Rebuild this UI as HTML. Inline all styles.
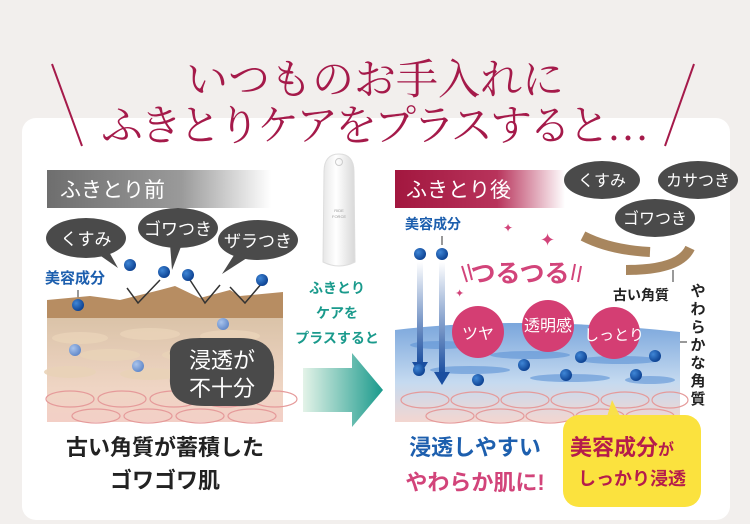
<!DOCTYPE html>
<html><head><meta charset="utf-8"><style>
html,body{margin:0;padding:0;width:750px;height:524px;overflow:hidden;background:#f2efed}
svg{display:block}
text{font-family:"Liberation Sans","Noto Sans CJK JP",sans-serif}
.s{font-family:"Liberation Serif","Noto Serif CJK SC",serif}
</style></head><body>
<svg width="750" height="524" viewBox="0 0 750 524" xmlns="http://www.w3.org/2000/svg">
<defs>
<linearGradient id="gh" x1="0" x2="1"><stop offset="0" stop-color="#6e6e6e"/><stop offset=".6" stop-color="#9a9a9a"/><stop offset="1" stop-color="#fff"/></linearGradient>
<linearGradient id="rh" x1="0" x2="1"><stop offset="0" stop-color="#a2173f"/><stop offset=".6" stop-color="#b8335b"/><stop offset="1" stop-color="#fff"/></linearGradient>
<linearGradient id="ar" x1="0" x2="1"><stop offset="0" stop-color="#e4f3e8"/><stop offset="1" stop-color="#1a9a8c"/></linearGradient>
<linearGradient id="bt" x1="0" x2="1"><stop offset="0" stop-color="#e6e6e6"/><stop offset=".4" stop-color="#fff"/><stop offset="1" stop-color="#d8d8d8"/></linearGradient>
<linearGradient id="sk" x1="0" x2="0" y1="0" y2="1"><stop offset="0" stop-color="#d8c1a5"/><stop offset=".7" stop-color="#efd5c4"/><stop offset="1" stop-color="#f3cfc6"/></linearGradient>
<linearGradient id="bl" x1="0" x2="0" y1="0" y2="1"><stop offset="0" stop-color="#7aa6dc"/><stop offset=".6" stop-color="#c5daf0"/><stop offset="1" stop-color="#f3d6d0"/></linearGradient>
<linearGradient id="dn" x1="0" x2="0" y1="0" y2="1"><stop offset="0" stop-color="#fff"/><stop offset="1" stop-color="#1a4ea0"/></linearGradient>
<radialGradient id="dot" cx=".35" cy=".35" r=".7"><stop offset="0" stop-color="#3f86d6"/><stop offset="1" stop-color="#0b3f8f"/></radialGradient>
<radialGradient id="ldot" cx=".35" cy=".35" r=".7"><stop offset="0" stop-color="#a9c4ec"/><stop offset="1" stop-color="#5f86c8"/></radialGradient>
</defs>
<rect x="22" y="118" width="708" height="402" rx="14" fill="#fff"/>
<text class="s" x="375" y="94" font-size="42" fill="#a51a4a" text-anchor="middle">いつものお手入れに</text>
<text class="s" x="375" y="140" font-size="42" fill="#a51a4a" text-anchor="middle" textLength="548">ふきとりケアをプラスすると…</text>
<line x1="52" y1="64" x2="82" y2="146" stroke="#a51a4a" stroke-width="2"/>
<line x1="694" y1="64" x2="665" y2="146" stroke="#a51a4a" stroke-width="2"/>
<!-- left -->
<rect x="47" y="170" width="224" height="38" fill="url(#gh)"/>
<text x="60" y="197" font-size="21" fill="#fff">ふきとり前</text>
<g fill="#4a4a4a">
<ellipse cx="86" cy="238" rx="40" ry="20"/><path d="M108 250 L118 268 L98 254Z"/>
<ellipse cx="178" cy="228" rx="40" ry="20"/><path d="M170 244 L172 270 L182 244Z"/>
<ellipse cx="258" cy="240" rx="40" ry="20"/><path d="M236 252 L222 274 L250 256Z"/>
</g>
<text x="86" y="245" font-size="17" fill="#fff" text-anchor="middle">くすみ</text>
<text x="178" y="235" font-size="17" fill="#fff" text-anchor="middle">ゴワつき</text>
<text x="258" y="247" font-size="17" fill="#fff" text-anchor="middle">ザラつき</text>
<text x="45" y="283" font-size="15" font-weight="bold" fill="#1d5fae">美容成分</text>
<line x1="78" y1="290" x2="78" y2="300" stroke="#333"/>
<rect x="47" y="310" width="236" height="112" fill="url(#sk)"/>
<path d="M47 300 L90 296 L120 300 L160 290 L175 286 L200 298 L230 290 L240 296 L283 292 L283 318 L47 318Z" fill="#b78d62"/>
<g fill="#e9d3b8" opacity=".9">
<ellipse cx="80" cy="338" rx="28" ry="6"/><ellipse cx="150" cy="334" rx="30" ry="6"/><ellipse cx="230" cy="336" rx="30" ry="6"/>
<ellipse cx="110" cy="355" rx="30" ry="6"/><ellipse cx="190" cy="355" rx="28" ry="6"/><ellipse cx="70" cy="372" rx="26" ry="6"/><ellipse cx="150" cy="374" rx="30" ry="6"/>
</g>
<g fill="none" stroke="#e59a9a" stroke-width="1.2">
<ellipse cx="70" cy="399" rx="24" ry="8"/><ellipse cx="122" cy="399" rx="24" ry="8"/><ellipse cx="174" cy="399" rx="24" ry="8"/><ellipse cx="226" cy="399" rx="24" ry="8"/><ellipse cx="275" cy="399" rx="22" ry="8"/>
<ellipse cx="96" cy="416" rx="24" ry="7"/><ellipse cx="148" cy="416" rx="24" ry="7"/><ellipse cx="200" cy="416" rx="24" ry="7"/><ellipse cx="252" cy="416" rx="24" ry="7"/>
</g>
<g stroke="#333" stroke-width="1.5" fill="none"><path d="M127 288 L138 303 L160 280"/><path d="M190 280 L205 303 L220 285"/><path d="M230 287 L245 303 L262 283"/></g>
<g fill="url(#dot)"><circle cx="130" cy="265" r="6"/><circle cx="164" cy="272" r="6"/><circle cx="188" cy="275" r="6"/><circle cx="262" cy="280" r="6"/><circle cx="78" cy="305" r="6"/></g>
<g fill="url(#ldot)"><circle cx="223" cy="324" r="6"/><circle cx="75" cy="350" r="6"/><circle cx="138" cy="366" r="6"/></g>
<path d="M170 355 Q168 338 200 338 L240 338 Q276 338 274 370 Q276 408 238 406 L205 406 Q168 406 170 378Z" fill="#4a4a4a"/>
<text x="222" y="368" font-size="22" fill="#fff" text-anchor="middle">浸透が</text>
<text x="222" y="396" font-size="22" fill="#fff" text-anchor="middle">不十分</text>
<text x="165" y="455" font-size="22" font-weight="bold" fill="#222" text-anchor="middle">古い角質が蓄積した</text>
<text x="165" y="488" font-size="22" font-weight="bold" fill="#222" text-anchor="middle">ゴワゴワ肌</text>
<!-- middle -->
<path d="M324 172 Q324 154 339 154 Q354 154 354 172 L355 262 Q339 270 323 262Z" fill="url(#bt)" stroke="#ddd"/>
<circle cx="339" cy="162" r="3.5" fill="none" stroke="#ccc"/>
<g fill="#999" font-size="4" text-anchor="middle"><text x="339" y="212">RIDE</text><text x="339" y="218">FORCE</text></g>
<g fill="#1a9a8c" font-size="14" font-weight="bold" text-anchor="middle"><text x="337" y="293">ふきとり</text><text x="337" y="318">ケアを</text><text x="337" y="343">プラスすると</text></g>
<path d="M303 368 L352 368 L352 353 L383 390 L352 427 L352 412 L303 412Z" fill="url(#ar)"/>
<!-- right -->
<rect x="395" y="170" width="170" height="38" fill="url(#rh)"/>
<text x="406" y="197" font-size="21" fill="#fff">ふきとり後</text>
<g fill="#4a4a4a"><ellipse cx="602" cy="180" rx="38" ry="19"/><ellipse cx="698" cy="180" rx="40" ry="19"/><ellipse cx="655" cy="218" rx="40" ry="19"/></g>
<text x="602" y="186" font-size="16" fill="#fff" text-anchor="middle">くすみ</text>
<text x="698" y="186" font-size="16" fill="#fff" text-anchor="middle">カサつき</text>
<text x="655" y="224" font-size="16" fill="#fff" text-anchor="middle">ゴワつき</text>
<path d="M583 236 Q610 250 650 252" stroke="#a8865e" stroke-width="10" fill="none"/>
<path d="M626 270 Q680 270 690 248" stroke="#a8865e" stroke-width="10" fill="none"/>
<line x1="673" y1="270" x2="673" y2="282" stroke="#333"/>
<text x="613" y="300" font-size="14" font-weight="bold" fill="#222">古い角質</text>
<g font-size="15" font-weight="bold" fill="#222" text-anchor="middle"><text x="698" y="296">や</text><text x="698" y="314">わ</text><text x="698" y="332">ら</text><text x="698" y="350">か</text><text x="698" y="368">な</text><text x="698" y="386">角</text><text x="698" y="404">質</text></g>
<line x1="660" y1="342" x2="687" y2="342" stroke="#333"/>
<text x="405" y="229" font-size="14" font-weight="bold" fill="#1d5fae">美容成分</text>
<line x1="442" y1="236" x2="442" y2="245" stroke="#333"/>
<path d="M395 330 Q520 315 680 332 L680 422 L395 422Z" fill="url(#bl)"/>
<g fill="#5d93d6" opacity=".6"><ellipse cx="440" cy="345" rx="30" ry="4"/><ellipse cx="530" cy="355" rx="40" ry="4"/><ellipse cx="620" cy="360" rx="40" ry="4"/><ellipse cx="470" cy="370" rx="40" ry="4"/><ellipse cx="570" cy="378" rx="40" ry="4"/><ellipse cx="650" cy="380" rx="25" ry="4"/></g>
<g fill="none" stroke="#e59a9a" stroke-width="1.2">
<ellipse cx="425" cy="400" rx="24" ry="8"/><ellipse cx="475" cy="400" rx="24" ry="8"/><ellipse cx="525" cy="400" rx="24" ry="8"/><ellipse cx="575" cy="400" rx="24" ry="8"/><ellipse cx="625" cy="400" rx="24" ry="8"/><ellipse cx="670" cy="400" rx="18" ry="8"/>
<ellipse cx="450" cy="416" rx="24" ry="7"/><ellipse cx="500" cy="416" rx="24" ry="7"/><ellipse cx="550" cy="416" rx="24" ry="7"/><ellipse cx="600" cy="416" rx="24" ry="7"/><ellipse cx="650" cy="416" rx="24" ry="7"/>
</g>
<rect x="417" y="262" width="6" height="102" fill="url(#dn)"/><path d="M412 362 L428 362 L420 375Z" fill="#1a4ea0"/>
<rect x="439" y="262" width="6" height="112" fill="url(#dn)"/><path d="M434 372 L450 372 L442 385Z" fill="#1a4ea0"/>
<g fill="url(#dot)"><circle cx="420" cy="254" r="6"/><circle cx="442" cy="254" r="6"/><circle cx="419" cy="370" r="6"/><circle cx="478" cy="380" r="6"/><circle cx="524" cy="365" r="6"/><circle cx="566" cy="375" r="6"/><circle cx="581" cy="357" r="6"/><circle cx="636" cy="375" r="6"/><circle cx="655" cy="356" r="6"/></g>
<text x="520" y="282" font-size="25" font-weight="bold" fill="#d2447a" text-anchor="middle">つるつる</text>
<g stroke="#d2447a" stroke-width="2"><line x1="462" y1="266" x2="467" y2="282"/><line x1="468" y1="264" x2="472" y2="280"/><line x1="575" y1="264" x2="572" y2="280"/><line x1="581" y1="266" x2="578" y2="282"/></g>
<text x="540" y="246" font-size="18" fill="#d2447a">✦</text><text x="503" y="232" font-size="12" fill="#d2447a">✦</text><text x="455" y="297" font-size="11" fill="#d2447a">✦</text>
<g fill="#d43e73"><circle cx="478" cy="332" r="26"/><circle cx="548" cy="326" r="26"/><circle cx="614" cy="333" r="26"/></g>
<text x="478" y="339" font-size="16" fill="#fff" text-anchor="middle">ツヤ</text>
<text x="548" y="331" font-size="16" fill="#fff" text-anchor="middle">透明感</text>
<text x="614" y="340" font-size="15" fill="#fff" text-anchor="middle">しっとり</text>
<path d="M612 400 L622 420 L606 420Z" fill="#f9e04a"/>
<rect x="563" y="415" width="138" height="92" rx="16" fill="#fbe23e"/>
<text x="570" y="455" font-size="22" font-weight="bold" fill="#b51c4b">美容成分<tspan font-size="16">が</tspan></text>
<text x="632" y="485" font-size="18" font-weight="bold" fill="#b51c4b" text-anchor="middle">しっかり浸透</text>
<text x="475" y="455" font-size="22" font-weight="bold" fill="#1d5fae" text-anchor="middle">浸透しやすい</text>
<text x="475" y="490" font-size="22" font-weight="bold" fill="#d2447a" text-anchor="middle">やわらか肌に!</text>
</svg>
</body></html>
